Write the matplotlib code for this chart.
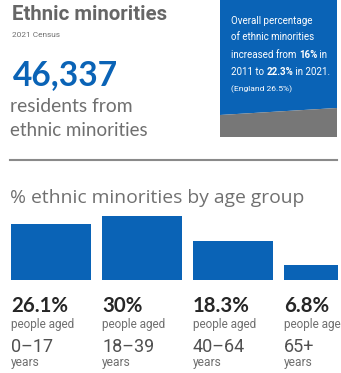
import matplotlib
matplotlib.use("Agg")
import matplotlib.pyplot as plt
from matplotlib.patches import Polygon

# ---- data ----
age_groups = ["0\u201317", "18\u201339", "40\u201364", "65+"]
pct_values = [26.1, 30.0, 18.3, 6.8]
pct_labels = ["26.1%", "30%", "18.3%", "6.8%"]
total_residents = "46,337"
box_lines = ["Overall percentage", "of ethnic minorities"]

W, H = 341, 373
BLUE = "#0a63b6"
GRAY = "#6f6f6f"
DARK = "#262626"
FONT = "Lato"
FONT2 = "Roboto"

fig = plt.figure(figsize=(W / 100, H / 100), dpi=100)
fig.patch.set_facecolor("white")
renderer = fig.canvas.get_renderer()


def fx(x):
    return x / W


def fy(y):
    return 1 - y / H


def put(s, x, y, width=None, size=10, **kw):
    kw.setdefault("family", FONT)
    t = fig.text(fx(x), fy(y), s, fontsize=size, va="baseline", ha="left", **kw)
    if width is not None:
        w = t.get_window_extent(renderer).width
        t.set_fontsize(size * width / w)
    return t


# header block
put("Ethnic minorities", 12, 20, width=155, weight="bold", color="#666666", family=FONT2)
put("2021 Census", 12, 37, width=48, color=GRAY, family=FONT2)
put(total_residents, 13, 85, width=105, weight="bold", color=BLUE)
put("residents from", 10, 112, width=123, color=GRAY)
put("ethnic minorities", 10, 136, width=138, color=GRAY)

# blue info box with gray shadow
fig.patches.append(Polygon([(fx(220), fy(0)), (fx(337), fy(0)), (fx(337), fy(108)), (fx(220), fy(115))],
                           closed=True, transform=fig.transFigure, facecolor=BLUE, edgecolor="none"))
fig.patches.append(Polygon([(fx(220), fy(115)), (fx(337), fy(108)), (fx(337), fy(137)), (fx(220), fy(137))],
                           closed=True, transform=fig.transFigure, facecolor="#777777", edgecolor="none"))


def chain(parts, x, y, size):
    right = fx(x)
    texts = []
    for s, bold in parts:
        t = fig.text(right, fy(y), s, fontsize=size, family=FONT2, color="white",
                     weight="bold" if bold else "normal", ha="left", va="baseline")
        bb = t.get_window_extent(renderer)
        right = bb.x1 / W
        texts.append(t)
    return texts, right * W - x


# fit box font size on the widest line (2011 ... 2021. spans ~99 px)
texts, wdt = chain([("2011 to ", False), ("22.3%", True), (" in 2021.", False)], 231, 75, 9)
bs = 9 * 99 / wdt
for t in texts:
    t.remove()
chain([("2011 to ", False), ("22.3%", True), (" in 2021.", False)], 231, 75, bs)
chain([("increased from ", False), ("16%", True), (" in", False)], 231, 58, bs)
put(box_lines[0], 231, 24, size=bs, color="white", family=FONT2)
put(box_lines[1], 231, 40, size=bs, color="white", family=FONT2)
put("(England 26.5%)", 231, 91, width=61, color="white", family=FONT2)

# divider line
fig.add_artist(plt.Line2D([fx(10), fx(337)], [fy(160), fy(160)], transform=fig.transFigure,
                          color="#8a8a8a", lw=1.5))

put("% ethnic minorities by age group", 10, 203, width=295, color="#707070", family="Open Sans")

# bar chart
unit = 91.0
bw = 80.0 / unit
scale = 2.145  # px per %
ymax = 32
ax_h = ymax * scale
ax = fig.add_axes([fx(11), fy(280), (338 - 11) / W, ax_h / H])
ax.bar(range(len(pct_values)), pct_values, width=bw, color=BLUE, align="center")
ax.set_xlim(-bw / 2, -bw / 2 + (338 - 11) / unit)
ax.set_ylim(0, ymax)
ax.axis("off")

sizes = {}
for i, (lab, grp) in enumerate(zip(pct_labels, age_groups)):
    x0 = 11 + i * unit
    if i == 0:
        a = put(lab, x0, 312, width=57, weight="bold", color=DARK)
        b = put("people aged", x0, 328, width=64, color=GRAY, family=FONT2)
        c = put(grp, x0, 352, width=42, color="#505050", family=FONT2)
        d = put("years", x0, 366, width=29, color=GRAY, family=FONT2)
        sizes = [a.get_fontsize(), b.get_fontsize(), c.get_fontsize(), d.get_fontsize()]
    else:
        put(lab, x0, 312, size=sizes[0], weight="bold", color=DARK)
        put("people aged", x0, 328, size=sizes[1], color=GRAY, family=FONT2)
        put(grp, x0, 352, size=sizes[2], color="#505050", family=FONT2)
        put("years", x0, 366, size=sizes[3], color=GRAY, family=FONT2)

fig.savefig("out.png", dpi=100)
